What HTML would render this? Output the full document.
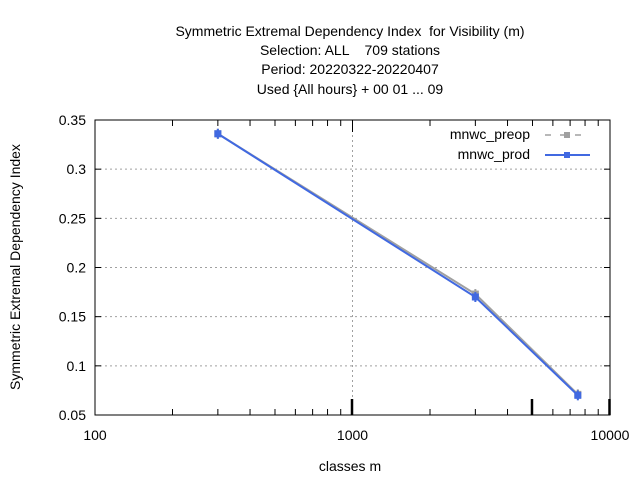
<!DOCTYPE html>
<html><head><meta charset="utf-8"><style>body{margin:0;background:#fff}svg{display:block;font-family:"Liberation Sans",sans-serif}text{white-space:pre}</style></head>
<body>
<svg id="c" width="640" height="480">
<g font-size="14" text-anchor="middle" fill="#000">
<text x="350" y="36" xml:space="preserve">Symmetric Extremal Dependency Index  for Visibility (m)</text>
<text x="350" y="55" xml:space="preserve">Selection: ALL    709 stations</text>
<text x="350" y="74">Period: 20220322-20220407</text>
<text x="350" y="94">Used {All hours} + 00 01 ... 09</text>
</g>
<text x="350" y="471" font-size="14" text-anchor="middle">classes m</text>
<text transform="translate(20,267) rotate(-90)" font-size="14" text-anchor="middle">Symmetric Extremal Dependency Index</text>
<g id="grid"></g><g id="axes"></g><g id="series"></g>
<g font-size="14">
<text x="530" y="139" text-anchor="end">mnwc_preop</text>
<line x1="545" y1="135" x2="590" y2="135" stroke="#a0a0a0" stroke-width="1.5" stroke-dasharray="6,9"/>
<rect x="564" y="132" width="6" height="6" fill="#a0a0a0"/>
<text x="530" y="159" text-anchor="end">mnwc_prod</text>
<line x1="545" y1="155" x2="590" y2="155" stroke="#4169e1" stroke-width="2"/>
<rect x="564" y="152" width="6" height="6" fill="#4169e1"/>
</g>
</svg>
<script>
const categories=[300,3000,7500];
const preopValues=[0.336,0.173,0.071];
const prodValues=[0.336,0.170,0.070];
const yTicks=[0.05,0.1,0.15,0.2,0.25,0.3,0.35];
const yTickLabels=["0.05","0.1","0.15","0.2","0.25","0.3","0.35"];
const xTicks=[100,1000,10000];
const xTickLabels=["100","1000","10000"];
const L=95,R=610,T=120,B=415;
const X=v=>L+(Math.log10(v)-2)/2*(R-L);
const Y=v=>B-(v-0.05)/0.3*(B-T);
const NS="http://www.w3.org/2000/svg";
function mk(p,t,a){const e=document.createElementNS(NS,t);for(const k in a)e.setAttribute(k,a[k]);p.appendChild(e);return e;}
const g=document.getElementById('grid'),ax=document.getElementById('axes'),s=document.getElementById('series');
yTicks.forEach((v,i)=>{const y=Y(v);
 if(i>0&&i<yTicks.length-1){const l=mk(g,'line',{x1:L,x2:R,y1:y,y2:y,stroke:'#a0a0a0','stroke-dasharray':'2,3'});
 
 }
 mk(ax,'line',{x1:L,x2:L+6,y1:y,y2:y,stroke:'#000'});mk(ax,'line',{x1:R,x2:R-6,y1:y,y2:y,stroke:'#000'});
 const t=mk(ax,'text',{x:L-9,y:y+5,'font-size':14,'text-anchor':'end'});t.textContent=yTickLabels[i];
 
 
});
{const x=X(1000);const l=mk(g,'line',{x1:x,x2:x,y1:T,y2:B,stroke:'#a0a0a0','stroke-dasharray':'2,3'});

}
xTicks.forEach((v,i)=>{const x=X(v);
 const t=mk(ax,'text',{x:x,y:440,'font-size':14,'text-anchor':'middle'});t.textContent=xTickLabels[i];
 
 
});
for(let d=100;d<10000;d*=10)for(let m=1;m<10;m++){const x=X(d*m);if(x<=L||x>=R)continue;const len=m===1?12:6;
 mk(ax,'line',{x1:x,x2:x,y1:B,y2:B-len,stroke:'#000'});mk(ax,'line',{x1:x,x2:x,y1:T,y2:T+len,stroke:'#000'});}
[1000,5000,10000].forEach(v=>{const x=X(v)-0.5;mk(ax,'line',{x1:x,x2:x,y1:B,y2:B-16,stroke:'#000','stroke-width':2.5});});
const fr=mk(ax,'rect',{x:L,y:T,width:R-L,height:B-T,fill:'none',stroke:'#000'});


function series(vals,col,w,name){
 const pl=mk(s,'polyline',{points:categories.map((c,i)=>X(c)+','+Y(vals[i])).join(' '),fill:'none',stroke:col,'stroke-width':w});
 
 
 categories.forEach((c,i)=>{const r=mk(s,'rect',{x:X(c)-3.5,y:Y(vals[i])-3.5,width:7,height:7,fill:col});
 
 
 mk(s,'line',{x1:X(c),x2:X(c),y1:Y(vals[i])-5,y2:Y(vals[i])+5,stroke:col,'stroke-width':2});});
}
series(preopValues,'#a0a0a0',2,'preop');
series(prodValues,'#4169e1',2,'prod');
</script>
</body></html>
